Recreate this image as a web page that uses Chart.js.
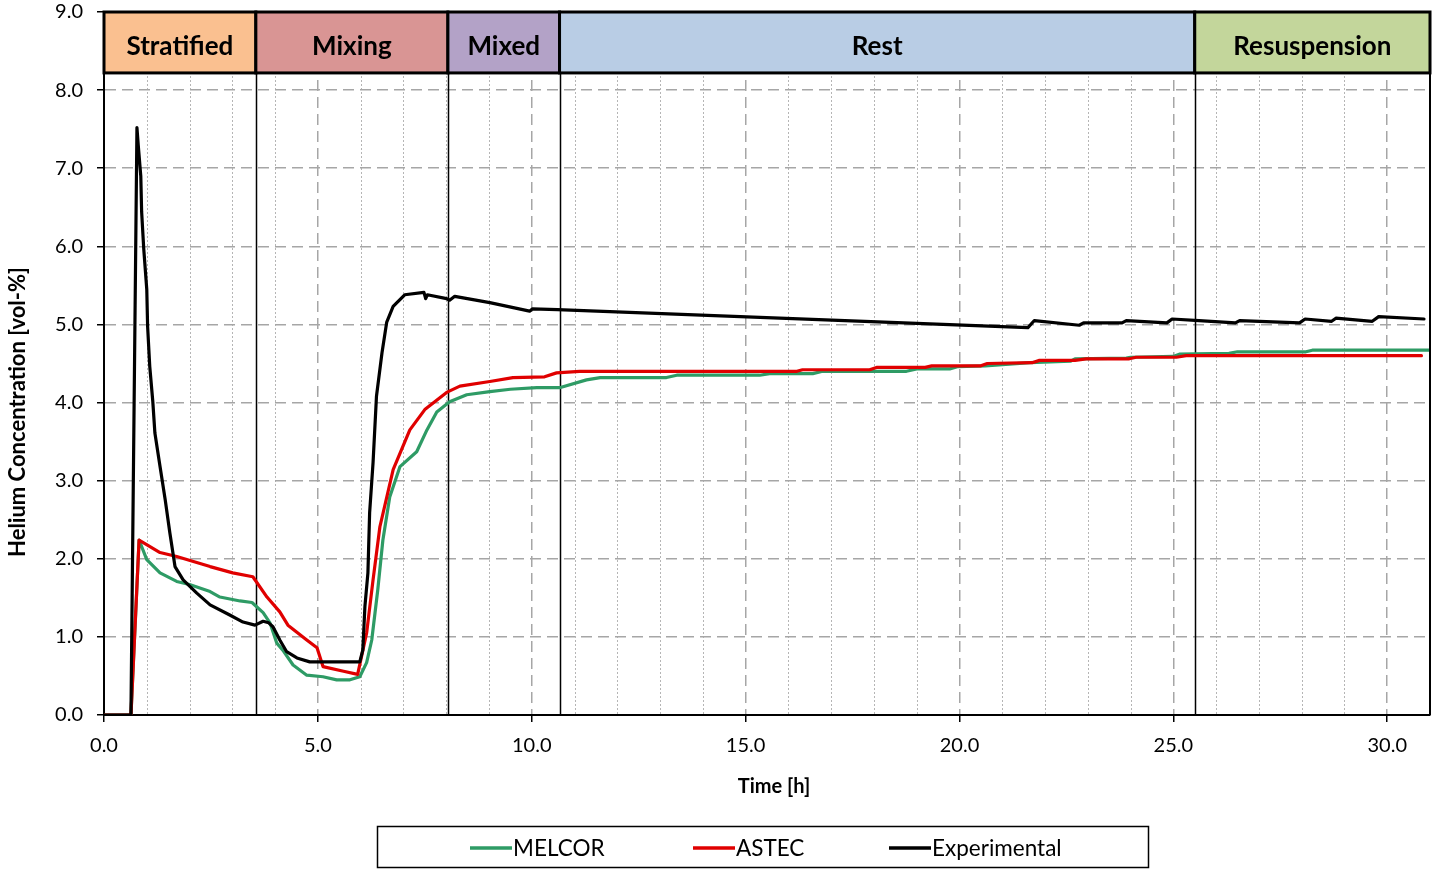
<!DOCTYPE html>
<html>
<head>
<meta charset="utf-8">
<script src="https://cdn.jsdelivr.net/npm/chart.js@4.4.0/dist/chart.umd.min.js"></script>
<style>
  body { margin: 0; background: #fff; }
  canvas { display: block; }
</style>
</head>
<body>
<canvas id="chart" width="1439" height="870"></canvas>
<script>
// phases shown in the band at the top
const phaseNames = ["Stratified", "Mixing", "Mixed", "Rest", "Resuspension"];
const phaseStart = [0, 3.55, 8.04, 10.65, 25.5];
const phaseEnd = [3.55, 8.04, 10.65, 25.5, 31];
const phaseColors = ["#fac090", "#d99594", "#b3a2c7", "#b9cde5", "#c3d69b"];

// MELCOR
const melcorTime = [0, 0.63, 0.82, 1.0, 1.31, 1.7, 2.0, 2.48, 2.71, 3.18, 3.46, 3.72, 3.88, 4.04, 4.18, 4.42, 4.74, 5.12, 5.44, 5.75, 5.98, 6.14, 6.26, 6.4, 6.52, 6.68, 6.92, 7.31, 7.55, 7.78, 8.08, 8.48, 9.02, 9.5, 10.12, 10.65, 11.28, 11.6, 13.15, 13.39, 15.33, 15.56, 16.57, 16.8, 18.76, 19.0, 19.77, 19.95, 20.6, 21.65, 22.6, 22.7, 23.9, 24.0, 25.0, 25.14, 26.3, 26.5, 28.1, 28.25, 31.0];
const melcorConc = [0, 0, 2.24, 1.99, 1.82, 1.71, 1.67, 1.58, 1.51, 1.46, 1.44, 1.31, 1.18, 0.92, 0.83, 0.64, 0.51, 0.49, 0.45, 0.45, 0.49, 0.67, 0.96, 1.6, 2.24, 2.79, 3.18, 3.37, 3.65, 3.88, 4.01, 4.1, 4.14, 4.17, 4.19, 4.19, 4.29, 4.32, 4.32, 4.35, 4.35, 4.37, 4.37, 4.4, 4.4, 4.43, 4.43, 4.46, 4.47, 4.51, 4.53, 4.56, 4.57, 4.58, 4.59, 4.62, 4.63, 4.65, 4.65, 4.67, 4.67];

// ASTEC
const astecTime = [0, 0.63, 0.82, 1.31, 1.7, 2.48, 3.01, 3.48, 3.81, 4.11, 4.3, 4.74, 4.98, 5.12, 5.6, 5.93, 6.14, 6.29, 6.45, 6.76, 7.15, 7.5, 8.01, 8.32, 9.02, 9.56, 10.3, 10.58, 11.12, 16.2, 16.33, 17.9, 18.06, 19.2, 19.35, 20.5, 20.65, 21.7, 21.87, 22.7, 22.96, 23.97, 24.13, 25.07, 25.3, 30.8];
const astecConc = [0, 0, 2.24, 2.08, 2.03, 1.9, 1.82, 1.77, 1.51, 1.32, 1.15, 0.96, 0.86, 0.62, 0.56, 0.52, 1.05, 1.73, 2.41, 3.14, 3.65, 3.91, 4.13, 4.21, 4.27, 4.32, 4.33, 4.38, 4.4, 4.4, 4.42, 4.42, 4.45, 4.45, 4.47, 4.47, 4.5, 4.51, 4.54, 4.54, 4.56, 4.56, 4.58, 4.58, 4.6, 4.6];

// Experimental
const expTime = [0, 0.63, 0.77, 0.8, 0.86, 0.88, 0.93, 1.0, 1.02, 1.07, 1.14, 1.19, 1.31, 1.43, 1.54, 1.66, 1.85, 2.17, 2.48, 2.94, 3.25, 3.53, 3.72, 3.85, 3.95, 4.11, 4.27, 4.51, 4.81, 5.98, 6.05, 6.1, 6.17, 6.21, 6.29, 6.37, 6.5, 6.61, 6.76, 7.03, 7.48, 7.52, 7.56, 8.01, 8.08, 8.2, 9.02, 9.95, 10.02, 10.6, 21.6, 21.75, 22.8, 22.9, 23.8, 23.9, 24.85, 24.97, 25.6, 26.45, 26.55, 27.95, 28.08, 28.7, 28.8, 29.65, 29.8, 30.86];
const expConc = [0, 0, 7.52, 7.3, 6.9, 6.44, 5.96, 5.45, 4.97, 4.46, 4.02, 3.61, 3.18, 2.76, 2.33, 1.9, 1.73, 1.56, 1.41, 1.28, 1.19, 1.15, 1.2, 1.18, 1.13, 0.96, 0.81, 0.73, 0.68, 0.68, 0.83, 1.39, 1.82, 2.59, 3.23, 4.08, 4.64, 5.03, 5.23, 5.38, 5.41, 5.33, 5.38, 5.33, 5.31, 5.36, 5.28, 5.17, 5.2, 5.19, 4.96, 5.05, 4.99, 5.02, 5.02, 5.05, 5.02, 5.07, 5.05, 5.02, 5.05, 5.02, 5.07, 5.04, 5.08, 5.04, 5.1, 5.07];

const FONT = "Lato, 'Open Sans', sans-serif";
const bandBottom = 8.22;

function pts(xs, ys) {
  return xs.map((x, i) => ({ x: x, y: ys[i] }));
}

const decor = {
  id: "decor",
  beforeDraw(chart) {
    const c = chart.ctx, a = chart.chartArea, x = chart.scales.x;
    c.save();
    c.fillStyle = "#fff";
    c.fillRect(0, 0, chart.width, chart.height);
    // dotted minor grid every hour
    c.strokeStyle = "#b5b5b5";
    c.lineWidth = 1;
    c.setLineDash([2, 2]);
    for (let t = 1; t < 31; t++) {
      if (t % 5 === 0) continue;
      const px = Math.round(x.getPixelForValue(t)) + 0.5;
      c.beginPath();
      c.moveTo(px, a.top);
      c.lineTo(px, a.bottom);
      c.stroke();
    }
    c.restore();
  },
  beforeDatasetsDraw(chart) {
    const c = chart.ctx, a = chart.chartArea;
    const x = chart.scales.x, y = chart.scales.y;
    c.save();
    c.strokeStyle = "#000";
    c.lineWidth = 1.5;
    for (let i = 1; i < phaseStart.length; i++) {
      const px = Math.round(x.getPixelForValue(phaseStart[i])) + 0.5;
      c.beginPath();
      c.moveTo(px, y.getPixelForValue(bandBottom));
      c.lineTo(px, a.bottom);
      c.stroke();
    }
    c.restore();
  },
  afterDatasetsDraw(chart) {
    const c = chart.ctx, a = chart.chartArea;
    const x = chart.scales.x, y = chart.scales.y;
    const top = y.getPixelForValue(9), bot = y.getPixelForValue(bandBottom);
    c.save();
    // plot frame on the right
    c.strokeStyle = "#000";
    c.lineWidth = 2;
    c.beginPath();
    c.moveTo(a.right, a.top);
    c.lineTo(a.right, a.bottom);
    c.stroke();
    // phase band
    c.font = "bold 26px " + FONT;
    c.textAlign = "center";
    c.textBaseline = "middle";
    phaseNames.forEach((name, i) => {
      const x1 = x.getPixelForValue(phaseStart[i]);
      const x2 = x.getPixelForValue(phaseEnd[i]);
      c.fillStyle = phaseColors[i];
      c.fillRect(x1, top, x2 - x1, bot - top);
      c.lineWidth = 3;
      c.strokeStyle = "#000";
      c.strokeRect(x1, top, x2 - x1, bot - top);
      c.fillStyle = "#000";
      c.fillText(name, (x1 + x2) / 2, (top + bot) / 2 + 4);
    });
    c.restore();
  },
  afterDraw(chart) {
    const c = chart.ctx, a = chart.chartArea;
    c.save();
    c.fillStyle = "#000";
    // axis titles
    c.font = "bold 20px " + FONT;
    c.textAlign = "center";
    c.textBaseline = "middle";
    c.fillText("Time [h]", (a.left + a.right) / 2 + 7, 787);
    c.font = "bold 22px " + FONT;
    c.translate(18, 412);
    c.rotate(-Math.PI / 2);
    c.fillText("Helium Concentration [vol-%]", 0, 0);
    c.restore();

    // legend
    c.save();
    c.strokeStyle = "#000";
    c.lineWidth = 1.5;
    c.strokeRect(377.5, 826.5, 771, 41);
    const items = [
      { label: "MELCOR", color: "#2e9b65", x: 470 },
      { label: "ASTEC", color: "#e00000", x: 693 },
      { label: "Experimental", color: "#000", x: 889 }
    ];
    c.font = "22.5px " + FONT;
    c.textBaseline = "middle";
    c.textAlign = "left";
    items.forEach(it => {
      c.strokeStyle = it.color;
      c.lineWidth = 3.5;
      c.beginPath();
      c.moveTo(it.x, 848);
      c.lineTo(it.x + 42, 848);
      c.stroke();
      c.fillStyle = "#000";
      c.fillText(it.label, it.x + 43, 849);
    });
    c.restore();
  }
};

new Chart(document.getElementById("chart"), {
  type: "line",
  data: {
    datasets: [
      { label: "MELCOR", data: pts(melcorTime, melcorConc), borderColor: "#2e9b65", order: 3 },
      { label: "ASTEC", data: pts(astecTime, astecConc), borderColor: "#e00000", order: 2 },
      { label: "Experimental", data: pts(expTime, expConc), borderColor: "#000", order: 1 }
    ]
  },
  options: {
    responsive: false,
    animation: false,
    devicePixelRatio: 1,
    parsing: false,
    layout: { padding: { left: 0, right: 9, top: 12, bottom: 0 } },
    elements: {
      line: { borderWidth: 3.2, tension: 0, borderJoinStyle: "round", borderCapStyle: "round" },
      point: { radius: 0 }
    },
    plugins: { legend: { display: false }, tooltip: { enabled: false } },
    scales: {
      x: {
        type: "linear",
        position: "bottom",
        min: 0,
        max: 31,
        ticks: {
          stepSize: 5,
          color: "#000",
          font: { family: FONT, size: 20 },
          padding: 12,
          maxRotation: 0,
          callback: v => v.toFixed(1)
        },
        afterBuildTicks: s => { s.ticks = s.ticks.filter(t => t.value % 5 === 0); },
        afterFit: s => { s.height = 155; s.paddingLeft = 0; s.paddingRight = 0; },
        grid: {
          color: "#a6a6a6",
          lineWidth: 1.5,
          tickColor: "#000",
          tickLength: 7,
          tickWidth: 1.5,
          tickBorderDash: []
        },
        border: { color: "#000", width: 2, dash: [11, 6] }
      },
      y: {
        min: 0,
        max: 9,
        ticks: {
          stepSize: 1,
          color: "#000",
          font: { family: FONT, size: 20 },
          padding: 14,
          callback: v => v.toFixed(1)
        },
        afterFit: s => { s.width = 104; s.paddingTop = 0; s.paddingBottom = 0; },
        grid: {
          color: "#a6a6a6",
          lineWidth: 1.5,
          tickColor: "#000",
          tickLength: 7,
          tickWidth: 1.5,
          tickBorderDash: []
        },
        border: { color: "#000", width: 2, dash: [11, 6] }
      }
    }
  },
  plugins: [decor]
});
</script>
</body>
</html>
